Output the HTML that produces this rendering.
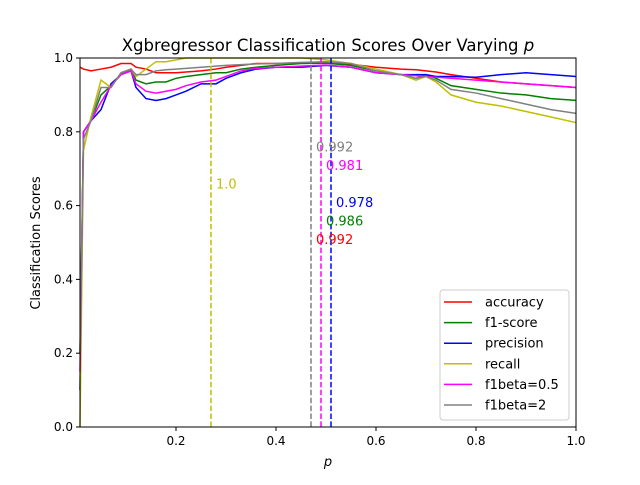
<!DOCTYPE html>
<html><head><meta charset="utf-8"><style>body{margin:0;background:#fff}svg{font-family:"DejaVu Sans","Liberation Sans",sans-serif}</style></head>
<body>
<svg id="chart" width="640" height="480" xmlns="http://www.w3.org/2000/svg">
<rect width="640" height="480" fill="#fff"/>
<g id="plot"></g>
</svg>
<script>
const xs=[0.008,0.015,0.03,0.05,0.07,0.09,0.11,0.12,0.14,0.16,0.18,0.2,0.22,0.25,0.28,0.3,0.33,0.36,0.4,0.45,0.5,0.55,0.6,0.65,0.68,0.7,0.72,0.75,0.8,0.85,0.9,0.95,1.0];
const accuracy=[.975,.97,.965,.97,.975,.985,.985,.975,.97,.96,.96,.96,.962,.965,.97,.975,.98,.985,.985,.987,.987,.983,.975,.97,.968,.965,.962,.955,.945,.935,.93,.925,.92];
const f1score=[.2,.8,.83,.9,.925,.955,.97,.94,.93,.935,.935,.945,.95,.955,.96,.96,.97,.975,.98,.985,.986,.98,.965,.955,.945,.955,.945,.925,.915,.905,.9,.89,.885];
const precision=[.1,.8,.83,.86,.93,.955,.965,.92,.89,.885,.89,.9,.91,.93,.93,.945,.96,.97,.975,.975,.98,.975,.96,.955,.955,.955,.95,.95,.948,.955,.96,.955,.95];
const recall=[0,.75,.84,.94,.92,.96,.97,.95,.97,.99,.99,.995,1,1,1,1,1,1,1,1,.995,.985,.97,.955,.94,.95,.935,.9,.88,.87,.855,.84,.825];
const f1beta05=[.15,.8,.83,.88,.925,.955,.965,.93,.91,.905,.91,.915,.925,.935,.94,.95,.965,.972,.975,.978,.981,.975,.96,.955,.952,.95,.948,.945,.94,.935,.93,.925,.92];
const f1beta2=[.2,.78,.83,.92,.92,.96,.97,.955,.955,.965,.968,.97,.972,.975,.978,.98,.982,.984,.985,.988,.99,.985,.965,.955,.945,.95,.94,.915,.905,.89,.875,.86,.85];
const seriesNames=["accuracy","f1-score","precision","recall","f1beta=0.5","f1beta=2"];
const colors=["#ff0000","#008000","#0000ff","#bfbf00","#ff00ff","#808080"];
const vlineX=[0.27,0.47,0.49,0.51];
const vlineColors=["#bfbf00","#808080","#ff00ff","#0000ff"];
const annTexts=["1.0","0.992","0.981","0.978","0.986","0.992"];
const annX=[0.28,0.48,0.50,0.52,0.50,0.48];
const annY=[0.66,0.76,0.71,0.61,0.56,0.51];
const annColors=["#bfbf00","#808080","#ff00ff","#0000ff","#008000","#ff0000"];
const xTicks=[0.2,0.4,0.6,0.8,1.0];
const yTicks=[0,0.2,0.4,0.6,0.8,1.0];
const L=80,R=576,T=58,B=427,X0=0.008,X1=1.0;
const sx=v=>L+(v-X0)/(X1-X0)*(R-L);
const sy=v=>B-v*(B-T);
const NS="http://www.w3.org/2000/svg";
const g=document.getElementById('plot');
function mk(t,a,p){const e=document.createElementNS(NS,t);for(const k in a)e.setAttribute(k,a[k]);(p||g).appendChild(e);return e;}
const data=[accuracy,f1score,precision,recall,f1beta05,f1beta2];
data.forEach((d,i)=>{
 const p=mk('polyline',{points:d.map((v,j)=>sx(xs[j])+','+sy(v)).join(' '),fill:'none',stroke:colors[i],'stroke-width':1.5});
 
 
});
vlineX.forEach((v,i)=>{
 const l=mk('line',{x1:sx(v),x2:sx(v),y1:T,y2:B,stroke:vlineColors[i],'stroke-width':1.5,'stroke-dasharray':'5.5,2.4'});
 
 
});
annTexts.forEach((t,i)=>{
 const e=mk('text',{x:sx(annX[i]),y:sy(annY[i])+5,fill:annColors[i],'font-size':13});e.textContent=t;
 
 
});
const fr=mk('rect',{x:L,y:T,width:R-L,height:B-T,fill:'none',stroke:'#000','stroke-width':1});


xTicks.forEach(v=>{
 mk('line',{x1:sx(v),x2:sx(v),y1:B,y2:B+4,stroke:'#000'});
 const t=mk('text',{x:sx(v),y:B+18,'text-anchor':'middle','font-size':12});t.textContent=v.toFixed(1);
 
 
});
yTicks.forEach(v=>{
 mk('line',{x1:L-4,x2:L,y1:sy(v),y2:sy(v),stroke:'#000'});
 const t=mk('text',{x:L-7,y:sy(v)+4,'text-anchor':'end','font-size':12});t.textContent=v.toFixed(1);
 
 
});
const title=mk('text',{x:328,y:51,'text-anchor':'middle','font-size':16.5});title.innerHTML='Xgbregressor Classification Scores Over Varying <tspan font-style="italic">p</tspan>';


const xl=mk('text',{x:328,y:466,'text-anchor':'middle','font-size':13,'font-style':'italic'});xl.textContent='p';


const yl=mk('text',{x:0,y:0,'text-anchor':'middle','font-size':13,transform:'translate(40,243) rotate(-90)'});yl.textContent='Classification Scores';


const lg=mk('g',{});


mk('rect',{x:440,y:290,width:129,height:130,rx:3,fill:'#fff','fill-opacity':0.8,stroke:'#ccc'},lg);
seriesNames.forEach((n,i)=>{
 const y=302+i*20.6;
 const en=mk('g',{},lg);
 
 
 mk('line',{x1:444,x2:472,y1:y,y2:y,stroke:colors[i],'stroke-width':1.5},en);
 const t=mk('text',{x:485,y:y+4.5,'font-size':13},en);t.textContent=n;
});
</script>
</body></html>
